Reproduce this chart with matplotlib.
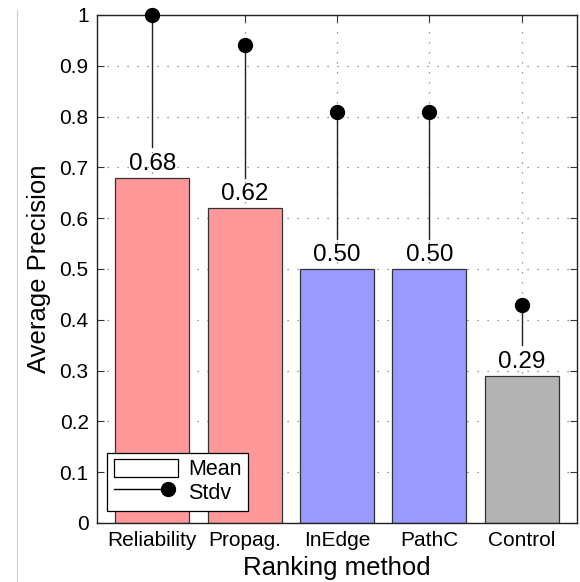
import matplotlib
matplotlib.use("Agg")
import matplotlib.pyplot as plt
from matplotlib.patches import Patch
from matplotlib.lines import Line2D

methods = ["Reliability", "Propag.", "InEdge", "PathC", "Control"]
means = [0.68, 0.62, 0.50, 0.50, 0.29]
stdv = [0.32, 0.32, 0.31, 0.31, 0.14]
colors = ["#FF9999", "#FF9999", "#9999FF", "#9999FF", "#B3B3B3"]
yticks = [0, 0.1, 0.2, 0.3, 0.4, 0.5, 0.6, 0.7, 0.8, 0.9, 1]
ytick_labels = ["0", "0.1", "0.2", "0.3", "0.4", "0.5", "0.6", "0.7", "0.8", "0.9", "1"]

plt.rcParams['font.family'] = ['Liberation Sans', 'DejaVu Sans']


class StemHandler:
    def legend_artist(self, legend, orig_handle, fontsize, handlebox):
        x0, y0 = handlebox.xdescent, handlebox.ydescent
        w, h = handlebox.width, handlebox.height
        ln = Line2D([x0, x0 + w * 0.85], [y0 + h / 2, y0 + h / 2], color="black", lw=1.0,
                    transform=handlebox.get_transform())
        mk = Line2D([x0 + w * 0.85], [y0 + h / 2], color="black", marker="o", markersize=10,
                    linestyle="none", transform=handlebox.get_transform())
        handlebox.add_artist(ln)
        handlebox.add_artist(mk)
        return ln


fig = plt.figure(figsize=(5.8, 5.82), dpi=100)
ax = fig.add_axes([97/580, 59/582, 480/580, 508/582])

x = list(range(1, len(methods) + 1))
ax.bar(x, means, width=0.8, color=colors, edgecolor="#333333", linewidth=0.9, zorder=2)

for xi, m, s in zip(x, means, stdv):
    ax.text(xi, m + 0.006, f"{m:.2f}", ha="center", va="bottom", fontsize=17.5, zorder=4)
    ax.plot([xi, xi], [m + 0.06, m + s], color="#222222", lw=1.0, zorder=3, clip_on=False)
    ax.plot([xi], [m + s], marker="o", color="black", markersize=10, zorder=5, clip_on=False)

ax.set_xlim(0.4, 5.6)
ax.set_ylim(0, 1)
ax.set_xticks(x)
ax.set_xticklabels(methods, fontsize=15)
ax.set_yticks(yticks)
ax.set_yticklabels(ytick_labels, fontsize=15)
ax.tick_params(direction="in", top=True, right=True, length=5, width=0.8, color="#333333", pad=6)
ax.grid(True, linestyle=(0, (1, 7)), color="#777777", linewidth=0.9, zorder=0)
ax.set_axisbelow(True)
for sp in ax.spines.values():
    sp.set_linewidth(1.0)
    sp.set_color("#222222")

ax.set_xlabel("Ranking method", fontsize=18.5, labelpad=4)
ax.set_ylabel("Average Precision", fontsize=18.5, labelpad=6)

stem_handle = Line2D([0], [0], color="black")
handles = [Patch(facecolor="white", edgecolor="black", linewidth=0.9), stem_handle]
leg = ax.legend(handles, ["Mean", "Stdv"], loc="lower left", bbox_to_anchor=(0.021, 0.024),
                fontsize=15.5, frameon=True, fancybox=False, framealpha=1,
                edgecolor="black", handlelength=3.0, handleheight=0.9, handletextpad=0.45,
                borderpad=0.3, labelspacing=0.12, borderaxespad=0,
                handler_map={stem_handle: StemHandler()})
leg.get_frame().set_linewidth(0.9)

fig.add_artist(Line2D([17/580, 17/580], [0, 572/582], color="#CCCCCC", lw=0.8))

fig.savefig("out.png", dpi=100)
